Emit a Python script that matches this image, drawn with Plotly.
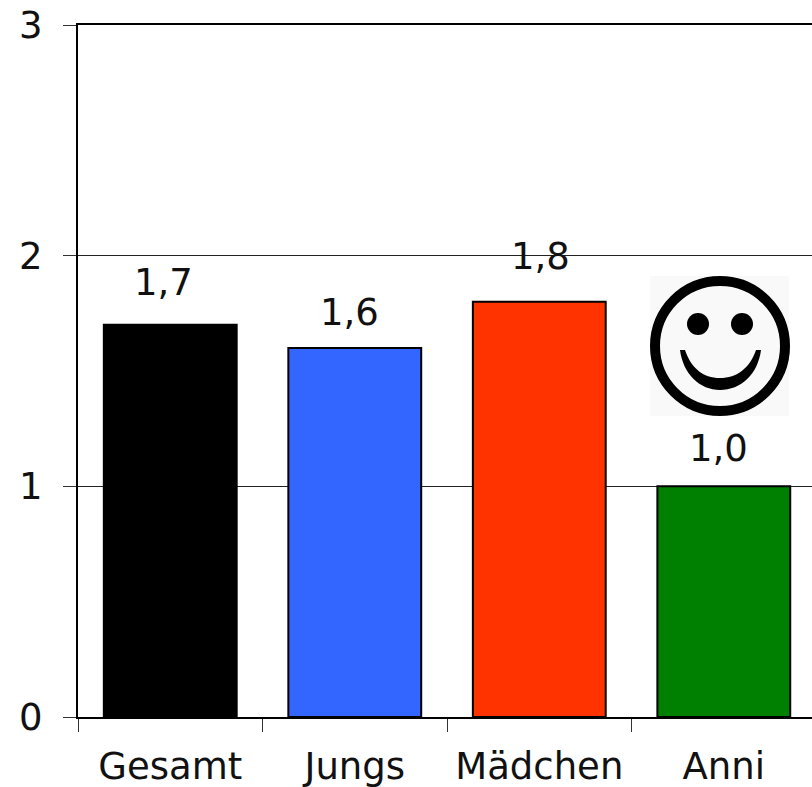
"""Grade averages as a bar chart with a smiley next to the best result."""

import plotly.graph_objects as go

WIDTH = 812
HEIGHT = 787
LEFT, RIGHT, TOP, BOTTOM = 78, 812, 25, 717
FONT = dict(family="DejaVu Sans", size=37, color="#111111")

categories = ["Gesamt", "Jungs", "Mädchen", "Anni"]
values = [1.7, 1.6, 1.8, 1.0]
value_labels = ["1,7", "1,6", "1,8", "1,0"]
bar_colors = ["#000000", "#3366ff", "#ff3300", "#008000"]
y_ticks = [0, 1, 2, 3]


def px_x(x):
    return (x - LEFT) / (RIGHT - LEFT)


def px_y(y):
    return (BOTTOM - y) / (BOTTOM - TOP)


def pt(x, y):
    return f"{px_x(x):.5f},{px_y(y):.5f}"


def circle(cx, cy, r, **style):
    # Smiley parts are placed by pixel on top of the plot area.
    return dict(
        type="circle", xref="paper", yref="paper",
        x0=px_x(cx - r), x1=px_x(cx + r), y0=px_y(cy - r), y1=px_y(cy + r),
        **style,
    )


def mouth_path():
    return (
        f"M {pt(680, 350)} "
        f"C {pt(683, 374)} {pt(700, 390)} {pt(720, 390)} "
        f"C {pt(741, 390)} {pt(758, 374)} {pt(761, 350)} "
        f"L {pt(756, 350)} "
        f"C {pt(750, 368)} {pt(737, 378)} {pt(720, 378)} "
        f"C {pt(703, 378)} {pt(691, 368)} {pt(685, 350)} Z"
    )


fig = go.Figure(
    go.Bar(
        x=categories,
        y=values,
        width=0.72,
        marker=dict(color=bar_colors, line=dict(color="#000000", width=2)),
        hoverinfo="skip",
    )
)

# Value labels sit at slightly uneven heights in the source chart.
label_shifts = [(-7, 42), (-5, 35), (1, 45), (-5, 38)]
for cat, val, text, (dx, dy) in zip(categories, values, value_labels, label_shifts):
    fig.add_annotation(
        x=cat, y=val, text=text, showarrow=False, font=FONT,
        xshift=dx, yshift=dy, yanchor="middle",
    )

fig.update_layout(
    width=WIDTH,
    height=HEIGHT,
    margin=dict(l=LEFT, r=WIDTH - RIGHT, t=TOP, b=HEIGHT - BOTTOM, autoexpand=False),
    paper_bgcolor="#ffffff",
    plot_bgcolor="#ffffff",
    showlegend=False,
    font=FONT,
    shapes=[
        dict(
            type="rect", xref="paper", yref="paper",
            x0=px_x(650), x1=px_x(789), y0=px_y(416), y1=px_y(276),
            fillcolor="#f9f9f9", line_width=0,
        ),
        circle(720, 346, 65, fillcolor="rgba(0,0,0,0)", line=dict(color="#000000", width=10)),
        circle(698, 324, 11, fillcolor="#000000", line_width=0),
        circle(742, 324, 11, fillcolor="#000000", line_width=0),
        dict(
            type="path", xref="paper", yref="paper", path=mouth_path(),
            fillcolor="#000000", line_width=0,
        ),
    ],
)
fig.update_xaxes(
    type="category",
    range=[-0.5, 3.478],
    tickson="boundaries",
    ticks="outside",
    ticklen=13,
    tickcolor="#333333",
    tickwidth=1,
    showline=True,
    linecolor="#000000",
    linewidth=2,
    mirror=True,
    showgrid=False,
    ticklabelstandoff=16,
)
fig.update_yaxes(
    range=[0, 3],
    tickvals=y_ticks,
    ticktext=[str(t) for t in y_ticks],
    ticks="outside",
    ticklen=13,
    tickcolor="#333333",
    tickwidth=1,
    showline=True,
    linecolor="#000000",
    linewidth=2,
    showgrid=True,
    gridcolor="#222222",
    gridwidth=1,
    zeroline=False,
    ticklabelstandoff=13,
)

# Drop the browser's default page margin so the figure fills the window.
fig.write_html(
    "out.html",
    config=dict(displayModeBar=False),
    post_script="document.body.style.margin = '0'; document.body.style.overflow = 'hidden';",
)
